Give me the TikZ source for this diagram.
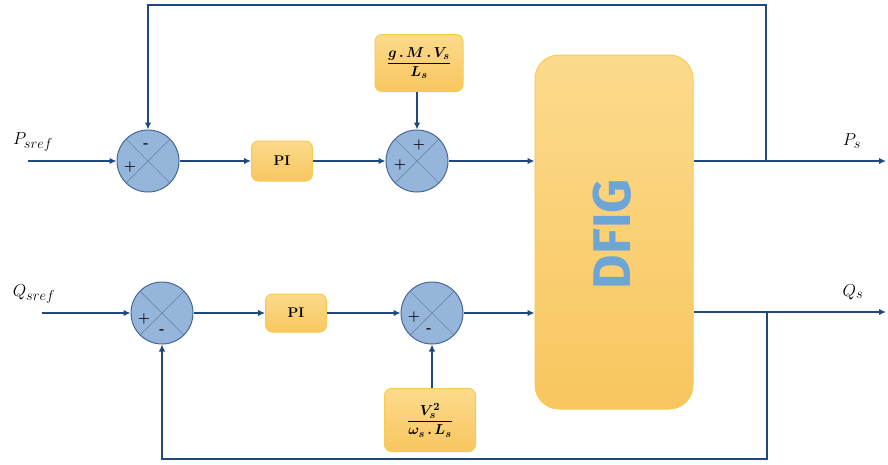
\documentclass[tikz,border=0pt]{standalone}
\usepackage{amsmath,bm}
\usepackage{fontspec}
\newfontfamily\dfigfont{Fira Sans}
\usetikzlibrary{arrows.meta}
\definecolor{wire}{RGB}{31,73,125}
\definecolor{sumfill}{RGB}{150,181,218}
\definecolor{sumdraw}{RGB}{70,105,150}
\definecolor{boxtop}{RGB}{252,218,140}
\definecolor{boxbot}{RGB}{248,198,95}
\definecolor{boxdraw}{RGB}{246,204,80}
\definecolor{dfigtext}{RGB}{110,165,215}
\begin{document}
\begin{tikzpicture}[x=1pt,y=-1pt,
  wireline/.style={draw=wire,line width=2.4pt},
  arr/.style={wireline,-{Latex[length=7pt,width=6.5pt]}},
  sumc/.style={circle,draw=sumdraw,line width=1pt,fill=sumfill,minimum size=62pt,inner sep=0pt,
    path picture={\draw[sumdraw!80,line width=0.7pt] (path picture bounding box.north west) -- (path picture bounding box.south east)
      (path picture bounding box.north east) -- (path picture bounding box.south west);}},
  sgn/.style={font=\bfseries\fontsize{14}{14}\selectfont,text=black,inner sep=0pt},
  blk/.style={rectangle,rounded corners=7pt,draw=boxdraw,line width=1pt,top color=boxtop,bottom color=boxbot,inner sep=0pt},
  lbl/.style={font=\fontsize{19}{21}\selectfont,inner sep=0pt},
  pitxt/.style={font=\bfseries\fontsize{14}{16}\selectfont},
  frac/.style={font=\fontsize{15.5}{18}\selectfont}
]
\useasboundingbox (0,0) rectangle (888,464);
% summing junctions
\node[sumc] (s1) at (148,161) {};
\node[sumc] (s2) at (417,161) {};
\node[sumc] (s3) at (162,313) {};
\node[sumc] (s4) at (432,313) {};
% signs
\node[sgn] at ([shift={(-2,-15)}]s1) {-};
\node[sgn] at ([shift={(-18,6)}]s1) {+};
\node[sgn] at ([shift={(2,-16)}]s2) {+};
\node[sgn] at ([shift={(-17,4)}]s2) {+};
\node[sgn] at ([shift={(-18,6)}]s3) {+};
\node[sgn] at ([shift={(0,19)}]s3) {-};
\node[sgn] at ([shift={(-18,4)}]s4) {+};
\node[sgn] at ([shift={(-3,18)}]s4) {-};
% blocks
\node[blk,pitxt,minimum width=61pt,minimum height=40pt] (pi1) at (282,161) {PI};
\node[blk,pitxt,minimum width=61pt,minimum height=38pt] (pi2) at (296,313) {PI};
\node[blk,frac,minimum width=88pt,minimum height=57pt] (g) at (419,63)
  {$\dfrac{\bm{g\,.\,M\,.\,V_s}}{\bm{L_s}}$};
\node[blk,frac,minimum width=91pt,minimum height=63pt] (v) at (430,420)
  {$\dfrac{\bm{V_s^{2}}}{\bm{\omega_s\,.\,L_s}}$};
\node[blk,rounded corners=24pt,minimum width=158pt,minimum height=354pt] (d) at (614,232) {};
\node[rotate=90,font=\dfigfont\bfseries\fontsize{53}{53}\selectfont,text=dfigtext,inner sep=0pt] (dt) at (612,234) {DFIG};
% inputs
\coordinate (pin) at (28,161);
\coordinate (qin) at (42,313);
\node[lbl] (pl) at (33,142) {$P_{sref}$};
\node[lbl] (ql) at (34,294) {$Q_{sref}$};
\draw[arr] (pin) -- (s1);
\draw[arr] (qin) -- (s3);
\draw[arr] (s1) -- (pi1);
\draw[arr] (s3) -- (pi2);
\draw[arr] (pi1) -- (s2);
\draw[arr] (pi2) -- (s4);
\draw[arr] (g.south -| s2) -- (s2);
\draw[arr] (v.north -| s4) -- (s4);
\draw[arr] (s2) -- (s2 -| d.west);
\draw[arr] (s4) -- (s4 -| d.west);
% outputs
\coordinate (pout) at (886,161);
\coordinate (qout) at (886,312);
\coordinate (pt) at (766,161);
\coordinate (qt) at (767,312);
\node[lbl] (psl) at (852,141) {$P_s$};
\node[lbl] (qsl) at (853,292) {$Q_s$};
\draw[arr] (d.east |- pt) -- (pout);
\draw[arr] (d.east |- qt) -- (qout);
% feedback
\coordinate (tr) at (766,5);
\coordinate (tl) at (148,5);
\coordinate (br) at (767,459);
\coordinate (bl) at (162,459);
\draw[arr] (pt) -- (tr) -- (tl) -- (s1);
\draw[arr] (qt) -- (br) -- (bl) -- (s3);
\end{tikzpicture}
\end{document}
